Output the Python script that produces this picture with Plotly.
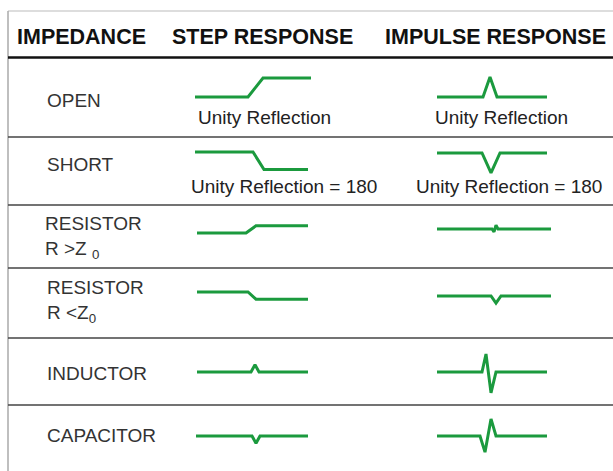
import plotly.graph_objects as go

W, H = 613, 471
GREEN = "#1b9a3e"

# ---- data ----
impedances = ["OPEN", "SHORT", "RESISTOR<br>R >Z <sub>0</sub>", "RESISTOR<br>R <Z<sub>0</sub>", "INDUCTOR", "CAPACITOR"]
headers = ["IMPEDANCE", "STEP RESPONSE", "IMPULSE RESPONSE"]
step_captions = ["Unity Reflection", "Unity Reflection = 180"]
impulse_captions = ["Unity Reflection", "Unity Reflection = 180"]

# waveforms: time (arbitrary units) and reflected amplitude (open step = 1)
step_open_t = [0, 53, 68, 116]
step_open_v = [0, 0, 1, 1]
step_short_t = [0, 58, 69, 113]
step_short_v = [0, 0, -0.92, -0.92]
step_rhi_t = [2, 51, 61, 113]
step_rhi_v = [0, 0, 0.38, 0.38]
step_rlo_t = [2, 53, 61, 113]
step_rlo_v = [0, 0, -0.38, -0.38]
step_ind_t = [2, 56, 60, 64, 113]
step_ind_v = [0, 0, 0.38, 0, 0]
step_cap_t = [1, 57, 61, 65, 113]
step_cap_v = [0, 0, -0.38, 0, 0]

imp_open_t = [0, 46, 53, 60, 110]
imp_open_v = [0, 0, 1.05, 0, 0]
imp_short_t = [0, 45, 54, 63, 110]
imp_short_v = [0, 0, -1.05, 0, 0]
imp_rhi_t = [0, 55, 57, 59, 61, 114]
imp_rhi_v = [0, 0, -0.15, 0.2, 0, 0]
imp_rlo_t = [0, 54, 59, 64, 114]
imp_rlo_v = [0, 0, -0.38, 0, 0]
imp_ind_t = [0, 45, 49, 54, 59, 110]
imp_ind_v = [0, 0, 0.95, -1.1, 0, 0]
imp_cap_t = [0, 43, 48, 54, 59, 110]
imp_cap_v = [0, 0, -0.85, 0.9, 0, 0]

step_t = [step_open_t, step_short_t, step_rhi_t, step_rlo_t, step_ind_t, step_cap_t]
step_v = [step_open_v, step_short_v, step_rhi_v, step_rlo_v, step_ind_v, step_cap_v]
imp_t = [imp_open_t, imp_short_t, imp_rhi_t, imp_rlo_t, imp_ind_t, imp_cap_t]
imp_v = [imp_open_v, imp_short_v, imp_rhi_v, imp_rlo_v, imp_ind_v, imp_cap_v]

# ---- layout geometry (pixels) ----
step_x0, imp_x0 = 195, 437
step_base = [97, 152, 233, 292, 372, 436]
imp_base = [97, 153, 229, 296, 372, 436]
label_y = [101, 165, 237, 301, 373, 435]
label_x = [45, 45, 43, 45, 45, 45]
row_lines = [137, 205, 268, 338, 405]
UNIT = 19.0  # px per amplitude unit
YSPAN = 1.5

def px(x):
    return x / W

def py(y):
    return 1 - y / H

fig = go.Figure()
layout = dict(width=W, height=H, margin=dict(l=0, r=0, t=0, b=0),
              paper_bgcolor="white", plot_bgcolor="rgba(0,0,0,0)", showlegend=False)

k = 0
for r in range(6):
    for (tt, vv, x0, yb) in [(step_t[r], step_v[r], step_x0, step_base[r]),
                             (imp_t[r], imp_v[r], imp_x0, imp_base[r])]:
        k += 1
        xa = "x" if k == 1 else f"x{k}"
        ya = "y" if k == 1 else f"y{k}"
        fig.add_trace(go.Scatter(x=tt, y=vv, mode="lines", xaxis=xa, yaxis=ya,
                                 line=dict(color=GREEN, width=3), hoverinfo="skip"))
        layout["xaxis" if k == 1 else f"xaxis{k}"] = dict(
            domain=[px(x0 - 5), px(x0 + 125)], range=[-5, 125], visible=False, fixedrange=True,
            anchor=ya)
        layout["yaxis" if k == 1 else f"yaxis{k}"] = dict(
            domain=[py(yb + YSPAN * UNIT), py(yb - YSPAN * UNIT)], range=[-YSPAN, YSPAN],
            visible=False, fixedrange=True, anchor=xa)

shapes = []
shapes.append(dict(type="line", xref="paper", yref="paper", x0=px(8), x1=1, y0=py(11), y1=py(11),
                   line=dict(color="#bbbbbb", width=1)))
shapes.append(dict(type="line", xref="paper", yref="paper", x0=px(8), x1=px(8), y0=py(11), y1=0,
                   line=dict(color="#aaaaaa", width=1.5)))
shapes.append(dict(type="line", xref="paper", yref="paper", x0=px(8), x1=1, y0=py(57.5), y1=py(57.5),
                   line=dict(color="#111111", width=2.5)))
for y in row_lines:
    shapes.append(dict(type="line", xref="paper", yref="paper", x0=px(8), x1=1, y0=py(y), y1=py(y),
                       line=dict(color="#444444", width=1.5)))
layout["shapes"] = shapes

ann = []
FONT = "Liberation Sans, Arial, Helvetica, sans-serif"
hdr_x = [15, 170, 383]
for h, x in zip(headers, hdr_x):
    ann.append(dict(text=f"<b>{h}</b>", x=px(x), y=py(37), xref="paper", yref="paper",
                    xanchor="left", yanchor="middle", showarrow=False,
                    font=dict(family=FONT, size=21.5, color="#111111")))
for lab, x, y in zip(impedances, label_x, label_y):
    ann.append(dict(text=lab, x=px(x), y=py(y), xref="paper", yref="paper",
                    xanchor="left", yanchor="middle", showarrow=False, align="left",
                    font=dict(family=FONT, size=19, color="#333333")))
cap_y = [118, 186]
step_cap_cx = [264, 284]
imp_cap_cx = [501, 509]
for i in range(2):
    ann.append(dict(text=step_captions[i], x=px(step_cap_cx[i]), y=py(cap_y[i]), xref="paper", yref="paper",
                    xanchor="center", yanchor="middle", showarrow=False,
                    font=dict(family=FONT, size=19, color="#222222")))
    ann.append(dict(text=impulse_captions[i], x=px(imp_cap_cx[i]), y=py(cap_y[i]), xref="paper", yref="paper",
                    xanchor="center", yanchor="middle", showarrow=False,
                    font=dict(family=FONT, size=19, color="#222222")))
layout["annotations"] = ann

fig.update_layout(**layout)
fig.write_html("out.html", config={"displayModeBar": False},
               post_script="document.body.style.margin='0px';document.body.style.padding='0px';")
